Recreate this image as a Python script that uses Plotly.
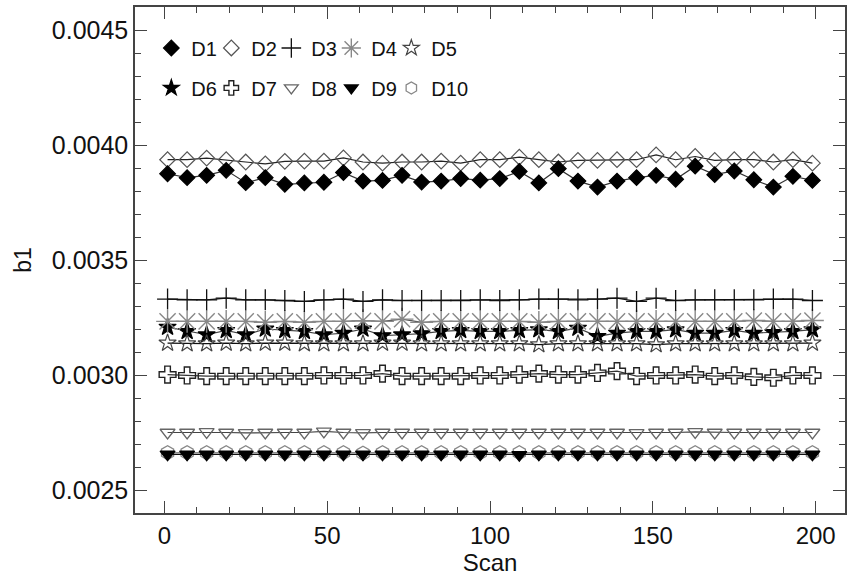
import plotly.graph_objects as go

scan = list(range(1, 200, 6))  # 34 scans: 1, 7, ..., 199

d1 = [0.003875, 0.003858, 0.003868, 0.003890, 0.003836, 0.003858, 0.003829, 0.003835,
      0.003838, 0.003880, 0.003843, 0.003846, 0.003868, 0.003839, 0.003843, 0.003854,
      0.003847, 0.003854, 0.003885, 0.003835, 0.003897, 0.003843, 0.003817, 0.003843,
      0.003858, 0.003868, 0.003851, 0.003908, 0.003871, 0.003887, 0.003849, 0.003817,
      0.003864, 0.003846]
d2 = [0.003936, 0.003936, 0.003943, 0.003936, 0.003926, 0.003918, 0.003929, 0.003930,
      0.003930, 0.003944, 0.003926, 0.003921, 0.003926, 0.003926, 0.003930, 0.003921,
      0.003936, 0.003936, 0.003947, 0.003936, 0.003926, 0.003933, 0.003933, 0.003936,
      0.003936, 0.003957, 0.003936, 0.003950, 0.003933, 0.003936, 0.003936, 0.003926,
      0.003936, 0.003921]
d3 = [0.003330, 0.003327, 0.003327, 0.003334, 0.003327, 0.003327, 0.003324, 0.003320,
      0.003327, 0.003330, 0.003320, 0.003327, 0.003324, 0.003324, 0.003324, 0.003324,
      0.003327, 0.003324, 0.003327, 0.003330, 0.003330, 0.003327, 0.003330, 0.003334,
      0.003320, 0.003334, 0.003324, 0.003327, 0.003327, 0.003327, 0.003327, 0.003330,
      0.003330, 0.003324]
d4 = [0.003233, 0.003233, 0.003233, 0.003233, 0.003233, 0.003229, 0.003233, 0.003229,
      0.003233, 0.003233, 0.003236, 0.003233, 0.003243, 0.003229, 0.003233, 0.003233,
      0.003233, 0.003233, 0.003233, 0.003229, 0.003233, 0.003233, 0.003233, 0.003233,
      0.003233, 0.003233, 0.003233, 0.003233, 0.003233, 0.003233, 0.003237, 0.003233,
      0.003233, 0.003237]
d5 = [0.003139, 0.003136, 0.003136, 0.003139, 0.003136, 0.003139, 0.003139, 0.003136,
      0.003136, 0.003136, 0.003136, 0.003139, 0.003139, 0.003136, 0.003136, 0.003136,
      0.003136, 0.003136, 0.003136, 0.003132, 0.003136, 0.003136, 0.003136, 0.003136,
      0.003136, 0.003132, 0.003136, 0.003136, 0.003136, 0.003136, 0.003136, 0.003136,
      0.003136, 0.003139]
d6 = [0.003208, 0.003190, 0.003175, 0.003194, 0.003175, 0.003200, 0.003194, 0.003190,
      0.003175, 0.003182, 0.003200, 0.003171, 0.003175, 0.003180, 0.003190, 0.003194,
      0.003190, 0.003190, 0.003194, 0.003197, 0.003190, 0.003204, 0.003168, 0.003182,
      0.003190, 0.003190, 0.003197, 0.003182, 0.003182, 0.003194, 0.003182, 0.003185,
      0.003190, 0.003197]
d7 = [0.003002, 0.002998, 0.002995, 0.002995, 0.002995, 0.002995, 0.002995, 0.002995,
      0.002998, 0.002998, 0.002998, 0.003006, 0.002995, 0.002995, 0.002995, 0.002995,
      0.002998, 0.002998, 0.003002, 0.003006, 0.003002, 0.003002, 0.003009, 0.003017,
      0.002995, 0.002998, 0.002998, 0.003002, 0.002995, 0.002998, 0.002992, 0.002988,
      0.002998, 0.002998]
d8 = [0.002750, 0.002750, 0.002753, 0.002750, 0.002748, 0.002750, 0.002750, 0.002750,
      0.002755, 0.002750, 0.002748, 0.002750, 0.002750, 0.002750, 0.002750, 0.002750,
      0.002750, 0.002750, 0.002750, 0.002750, 0.002750, 0.002750, 0.002750, 0.002750,
      0.002748, 0.002750, 0.002750, 0.002753, 0.002750, 0.002750, 0.002750, 0.002750,
      0.002750, 0.002750]
d9 = [0.002655, 0.002655, 0.002655, 0.002655, 0.002655, 0.002655, 0.002655, 0.002655,
      0.002655, 0.002655, 0.002655, 0.002655, 0.002655, 0.002655, 0.002655, 0.002655,
      0.002655, 0.002655, 0.002653, 0.002655, 0.002655, 0.002655, 0.002655, 0.002655,
      0.002655, 0.002655, 0.002655, 0.002655, 0.002655, 0.002655, 0.002655, 0.002655,
      0.002655, 0.002655]
d10 = [0.002662, 0.002662, 0.002662, 0.002662, 0.002662, 0.002662, 0.002662, 0.002662,
       0.002662, 0.002662, 0.002660, 0.002662, 0.002662, 0.002662, 0.002662, 0.002662,
       0.002662, 0.002662, 0.002662, 0.002662, 0.002662, 0.002662, 0.002662, 0.002662,
       0.002662, 0.002662, 0.002662, 0.002662, 0.002662, 0.002662, 0.002662, 0.002662,
       0.002662, 0.002662]

names = ["D1", "D2", "D3", "D4", "D5", "D6", "D7", "D8", "D9", "D10"]
series = [d1, d2, d3, d4, d5, d6, d7, d8, d9, d10]
symbols = ["diamond", "diamond-open", "cross-thin-open", "asterisk-open", "star-open",
           "star", "cross-open", "triangle-down-open", "triangle-down", "hexagon-open"]
mcolors = ["#000000", "#555555", "#111111", "#888888", "#444444",
           "#000000", "#222222", "#666666", "#000000", "#888888"]
lcolors = ["#333333", "#222222", "#111111", "#555555", "#111111",
           "#444444", "#333333", "#444444", "#111111", "#666666"]
sizes = [12, 12, 15, 19, 13, 13, 14, 13, 13, 14]
leg_sizes = [12, 12, 14, 16, 12, 12, 12, 12, 12, 12]
mlw = [1.2, 1.2, 1.3, 1.4, 1.2, 1.2, 1.4, 1.3, 1.2, 1.3]

fig = go.Figure()
order = [9, 8, 7, 6, 5, 4, 3, 2, 1, 0]
for i in order:
    fig.add_trace(go.Scatter(
        x=scan, y=series[i], mode="lines+markers", name=names[i], showlegend=False,
        line=dict(color=lcolors[i], width=1.2),
        marker=dict(symbol=symbols[i], size=sizes[i], color=mcolors[i],
                    line=dict(color=mcolors[i], width=mlw[i])),
    ))
# legend entries (markers only)
for i in range(10):
    fig.add_trace(go.Scatter(
        x=[None], y=[None], mode="markers", name=names[i],
        legend="legend" if i < 5 else "legend2",
        marker=dict(symbol=symbols[i], size=leg_sizes[i], color=mcolors[i],
                    line=dict(color=mcolors[i], width=mlw[i])),
    ))
# invisible spacer entries so the last legend label is not clipped
for lg in ["legend", "legend2"]:
    fig.add_trace(go.Scatter(
        x=[None], y=[None], mode="markers", name="\u00a0", legend=lg,
        marker=dict(size=1, color="rgba(0,0,0,0)"), hoverinfo="skip",
    ))

leg_font = dict(family="Liberation Sans, Arial, sans-serif", size=20, color="#111111")
ytick_font = dict(family="Liberation Sans, Arial, sans-serif", size=25, color="#111111")
xtick_font = dict(family="Liberation Sans, Arial, sans-serif", size=24, color="#111111")
ytitle_font = dict(family="Liberation Sans, Arial, sans-serif", size=23, color="#111111")

leg_common = dict(orientation="h", bgcolor="rgba(0,0,0,0)", font=leg_font,
                  xanchor="left", yanchor="middle", entrywidth=15, entrywidthmode="pixels",
                  itemsizing="trace", tracegroupgap=0)

fig.update_layout(
    width=849, height=579,
    margin=dict(l=135, r=2, t=7, b=66),
    paper_bgcolor="white", plot_bgcolor="white",
    font=leg_font,
    showlegend=True,
    legend=dict(x=0.023, y=0.919, **leg_common),
    legend2=dict(x=0.023, y=0.84, **leg_common),
    xaxis=dict(
        range=[-9, 209], tickmode="linear", tick0=0, dtick=50,
        showline=True, linecolor="#444444", linewidth=1.5, mirror="ticks",
        ticks="inside", ticklen=12, tickcolor="#444444", tickwidth=1.2,
        minor=dict(ticks="inside", dtick=10, ticklen=6, tickcolor="#444444"),
        showgrid=False, zeroline=False,
        title=dict(text="Scan", font=xtick_font, standoff=6),
        tickfont=xtick_font,
    ),
    yaxis=dict(
        range=[0.0024, 0.0046], tickmode="linear", tick0=0.0025, dtick=0.0005,
        tickformat=".4f",
        showline=True, linecolor="#444444", linewidth=1.5, mirror="ticks",
        ticks="inside", ticklen=12, tickcolor="#444444", tickwidth=1.2,
        minor=dict(ticks="inside", dtick=0.0001, ticklen=6, tickcolor="#444444"),
        showgrid=False, zeroline=False,
        title=dict(text="b1", font=ytitle_font, standoff=14),
        tickfont=ytick_font,
    ),
)

fig.write_html("out.html")
